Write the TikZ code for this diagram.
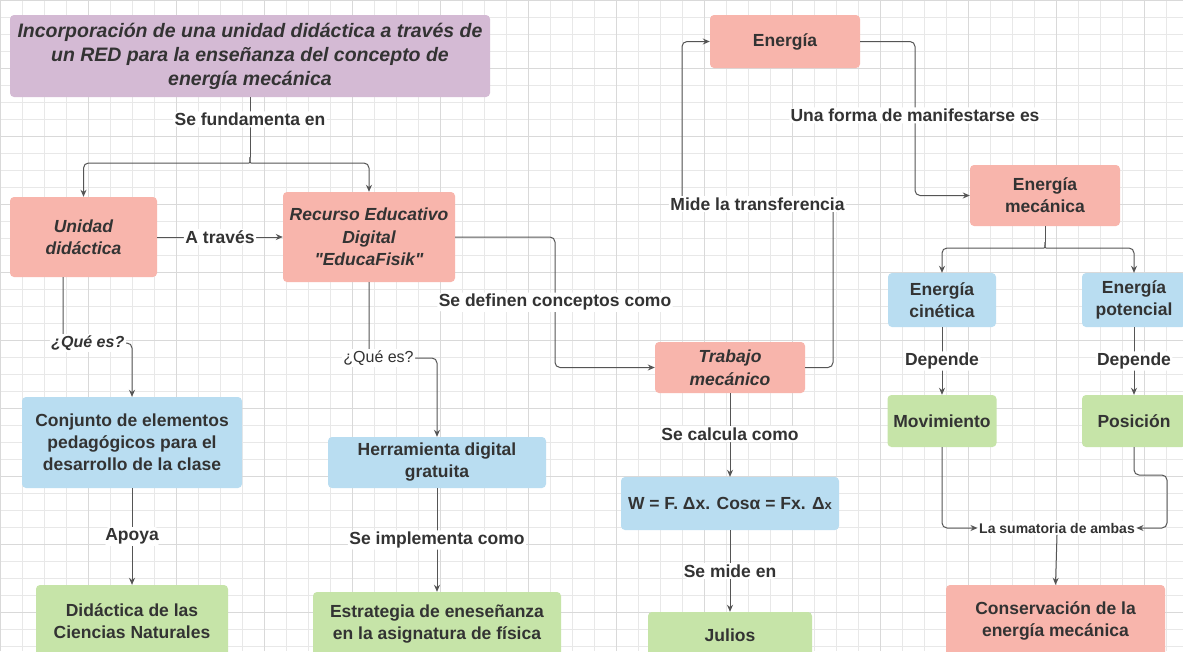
\documentclass[tikz,border=0pt]{standalone}
\usepackage{fontspec}
\setmainfont{Liberation Sans}[Ligatures=TeXOff]
\usetikzlibrary{positioning,arrows.meta,calc}
\definecolor{cmsalmon}{HTML}{F8B5AC}
\definecolor{cmblue}{HTML}{B9DDF1}
\definecolor{cmgreen}{HTML}{C6E4A8}
\definecolor{cmpurple}{HTML}{D4BAD4}
\definecolor{cmink}{HTML}{333333}
\definecolor{cmwire}{HTML}{555555}
\tikzset{
  cmbox/.style={rounded corners=4pt, align=center, text=cmink, inner sep=2pt,
                font=\fontsize{17.5}{22}\selectfont\bfseries},
  cmital/.style={cmbox, font=\fontsize{17.5}{22.5}\selectfont\bfseries\itshape},
  cmlab/.style={fill=white, text=cmink, inner sep=1.5pt,
                font=\fontsize{17.5}{20}\selectfont\bfseries},
  cmline/.style={draw=cmwire, line width=1pt, rounded corners=5pt},
  cmarr/.style={cmline, -{Stealth[length=7pt,width=6pt]}},
}
\newcommand{\cmTypeR}{cmsalmon}
\newcommand{\cmTypeB}{cmblue}
\newcommand{\cmTypeG}{cmgreen}
\newcommand{\cmTypeT}{cmpurple}

\begin{document}
\begin{tikzpicture}[x=1pt,y=-1pt]
  \useasboundingbox (0,0) rectangle (1183,651);
  \fill[white] (0,0) rectangle (1183,651);
  \draw[black!9, line width=0.5pt, xstep=22pt, ystep=17pt] (0,0) grid (1183,651);
  \draw[black!15, line width=0.6pt, xstep=88pt, ystep=68pt] (0,0) grid (1183,651);

  % boxes
  \node[cmbox, fill=\cmTypeT, minimum width=480pt, minimum height=82pt,
        font=\fontsize{19.5}{24}\selectfont\bfseries\itshape] (title) at (250,56)
        {Incorporación de una unidad didáctica a través de\\un RED para la enseñanza del concepto de\\energía mecánica};
  \node[cmital, fill=\cmTypeR, minimum width=147pt, minimum height=80pt] (unidad) at (83.5,237) {Unidad\\didáctica};
  \node[cmital, fill=\cmTypeR, minimum width=172pt, minimum height=90pt] (recurso) at (369,237) {Recurso Educativo\\Digital\\"EducaFisik"};
  \node[cmbox, fill=\cmTypeB, minimum width=220pt, minimum height=91pt] (conjunto) at (132,442.5) {Conjunto de elementos\\pedagógicos para el\\desarrollo de la clase};
  \node[cmbox, fill=\cmTypeG, minimum width=192pt, minimum height=72pt] (didact) at (132,621) {Didáctica de las\\Ciencias Naturales};
  \node[cmbox, fill=\cmTypeB, minimum width=218pt, minimum height=51pt] (herram) at (437,462.5) {Herramienta digital\\gratuita};
  \node[cmbox, fill=\cmTypeG, minimum width=248pt, minimum height=64pt] (estrat) at (437,624) {Estrategia de eneseñanza\\en la asignatura de física};
  \node[cmital, fill=\cmTypeR, minimum width=150pt, minimum height=51pt] (trabajo) at (730,367.5) {Trabajo\\mecánico};
  \node[cmbox, fill=\cmTypeB, minimum width=218pt, minimum height=53pt] (formula) at (730,503.5) {W = F. Δx. Cosα = Fx. Δ{\fontsize{13}{14}\selectfont x}};
  \node[cmbox, fill=\cmTypeG, minimum width=164pt, minimum height=46pt] (julios) at (730,635) {Julios};
  \node[cmbox, fill=\cmTypeR, minimum width=150pt, minimum height=53pt] (energia) at (785,41.5) {Energía};
  \node[cmbox, fill=\cmTypeR, minimum width=150pt, minimum height=61pt] (emec) at (1045,195.5) {Energía\\mecánica};
  \node[cmbox, fill=\cmTypeB, minimum width=108pt, minimum height=54pt] (ecin) at (942,300) {Energía\\cinética};
  \node[cmbox, fill=\cmTypeB, minimum width=104pt, minimum height=54pt] (epot) at (1134,300) {Energía\\potencial};
  \node[cmbox, fill=\cmTypeG, minimum width=109pt, minimum height=52pt] (movim) at (942,421) {Movimiento};
  \node[cmbox, fill=\cmTypeG, minimum width=104pt, minimum height=52pt] (posic) at (1134,421) {Posición};
  \node[cmbox, fill=\cmTypeR, minimum width=219pt, minimum height=72pt] (conserv) at (1055.5,621) {Conservación de la\\energía mecánica};
  \node[cmlab, font=\fontsize{14}{16}\selectfont\bfseries] (suma) at (1057,528) {La sumatoria de ambas};

  % connectors
  \draw[cmline] (title.south) -- node[cmlab, pos=0.37]{Se fundamenta en} (250,157);
  \draw[cmarr] (250,157) .. controls (250,163) .. (244,163) -| (unidad.north);
  \draw[cmarr] (250,157) .. controls (250,163) .. (256,163) -| (recurso.north);
  \draw[cmarr] (unidad.east) -- node[cmlab]{A través} (recurso.west);
  \draw[cmarr] ([xshift=-20.5pt]unidad.south) -- (63,343) -| node[cmlab, font=\fontsize{16}{20}\selectfont\bfseries\itshape, pos=0.18]{¿Qué es?} (conjunto.north);
  \draw[cmarr] (conjunto.south) -- node[cmlab, pos=0.5]{Apoya} (didact.north);
  \draw[cmarr] (recurso.south) -- (369,358) -| node[cmlab, font=\fontsize{16}{20}\selectfont, pos=0.07]{¿Qué es?} (herram.north);
  \draw[cmarr] (herram.south) -- node[cmlab, pos=0.5]{Se implementa como} (estrat.north);
  \draw[cmarr] (recurso.east) -- (555,237) |- node[cmlab, pos=0.25]{Se definen conceptos como} (trabajo.west);
  \draw[cmarr] (trabajo.south) -- node[cmlab, pos=0.49]{Se calcula como} (formula.north);
  \draw[cmarr] (formula.south) -- node[cmlab, pos=0.5]{Se mide en} (julios.north);
  \draw[cmarr] (trabajo.east) -| (833,204) -- node[cmlab]{Mide la transferencia} (682,204) |- (energia.west);
  \draw[cmarr] (energia.east) -- (915,41.5) |- node[cmlab, pos=0.24]{Una forma de manifestarse es} (emec.west);
  \draw[cmline] (emec.south) -- (1045,242);
  \draw[cmarr] (1045,242) .. controls (1045,248) .. (1039,248) -| (ecin.north);
  \draw[cmarr] (1045,242) .. controls (1045,248) .. (1051,248) -| (epot.north);
  \draw[cmarr] (ecin.south) -- node[cmlab, pos=0.5]{Depende} (movim.north);
  \draw[cmarr] (epot.south) -- node[cmlab, pos=0.5]{Depende} (posic.north);
  \draw[cmarr] (movim.south) |- (suma.west);
  \draw[cmarr] (posic.south) -- (1134,475) -- (1167,475) |- (suma.east);
  \draw[cmarr] (suma.south) -- (conserv.north);
\end{tikzpicture}
\end{document}
